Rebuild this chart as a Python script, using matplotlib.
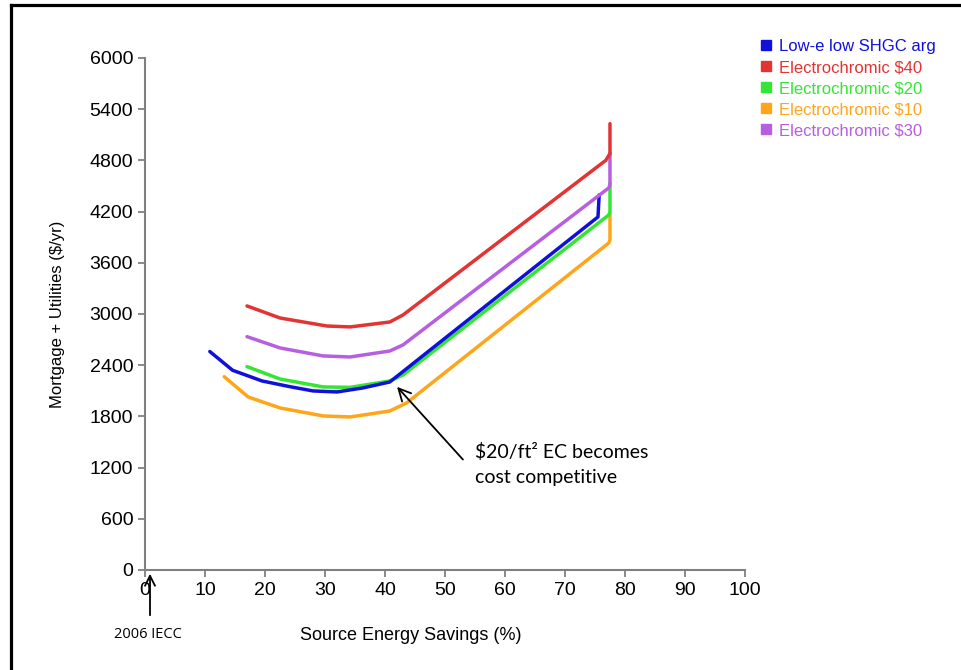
import matplotlib
matplotlib.use("Agg")
import matplotlib.pyplot as plt
from matplotlib.lines import Line2D

plt.rcParams['font.family'] = ['Liberation Sans', 'DejaVu Sans']

# series: source energy savings (%) vs mortgage + utilities ($/yr)
blue_x = [10.8, 14.6, 19.5, 24.0, 28.0, 32.0, 36.3, 40.8, 75.5, 75.7]
blue_y = [2560, 2340, 2215, 2150, 2098, 2086, 2133, 2203, 4137, 4395]

red_x = [17.0, 22.5, 30.3, 34.2, 40.8, 43.0, 76.8, 77.5, 77.5]
red_y = [3094, 2953, 2859, 2848, 2906, 2988, 4800, 4880, 5230]

green_x = [17.0, 22.5, 29.7, 34.2, 40.8, 43.0, 77.3, 77.5, 77.5]
green_y = [2383, 2238, 2145, 2140, 2215, 2285, 4160, 4200, 4535]

orange_x = [13.2, 17.2, 22.5, 29.7, 34.2, 40.8, 43.6, 77.3, 77.5, 77.5]
orange_y = [2265, 2027, 1899, 1805, 1793, 1863, 1957, 3832, 3870, 4184]

purple_x = [17.0, 22.5, 29.7, 34.2, 40.8, 43.0, 77.3, 77.5, 77.5]
purple_y = [2734, 2602, 2508, 2496, 2566, 2637, 4477, 4520, 4887]

labels = ["Low-e low SHGC arg", "Electrochromic $40", "Electrochromic $20",
          "Electrochromic $10", "Electrochromic $30"]
colors = ["#1010DD", "#E33333", "#33E633", "#FFA51A", "#B85EE0"]

x_ticks = list(range(0, 101, 10))
y_ticks = list(range(0, 6001, 600))

fig = plt.figure(figsize=(9.61, 6.70), dpi=100)
ax = fig.add_axes([0.1509, 0.1493, 0.6243, 0.7642])

series = [(blue_x, blue_y), (red_x, red_y), (green_x, green_y),
          (orange_x, orange_y), (purple_x, purple_y)]
# draw order so the vertical end segments stack like the original
order = [3, 2, 0, 4, 1]
for i in order:
    xs, ys = series[i]
    ax.plot(xs, ys, color=colors[i], lw=2.5, solid_joinstyle='round',
            solid_capstyle='round', zorder=3)

ax.set_xlim(0, 100)
ax.set_ylim(0, 6000)
ax.set_xticks(x_ticks)
ax.set_yticks(y_ticks)
ax.tick_params(labelsize=14, color='#808080', length=5, width=1.3, direction='out')
ax.tick_params(axis='x', pad=4)
for side in ['top', 'right']:
    ax.spines[side].set_visible(False)
for side in ['left', 'bottom']:
    ax.spines[side].set_color('#808080')
    ax.spines[side].set_linewidth(1.5)

ax.set_ylabel("Mortgage + Utilities ($/yr)", fontsize=12, labelpad=18)
fig.text(411 / 961, 1 - 636 / 670, "Source Energy Savings (%)", fontsize=13,
         ha='center', va='center')

# legend with small square markers, text in series colour
handles = [Line2D([], [], ls='none', marker='s', markersize=7, color=c) for c in colors]
leg = ax.legend(handles, labels, loc='upper left', bbox_to_anchor=(1.016, 1.05),
                frameon=False, fontsize=12, handlelength=0.6, handletextpad=0.45,
                labelspacing=0.36, labelcolor=colors, borderaxespad=0)

# annotation for the cost competitive point
ax.annotate("", xy=(41.7, 2170), xytext=(53.3, 1270),
            arrowprops=dict(arrowstyle='->', color='black', lw=1.3,
                            mutation_scale=22))
ax.text(55.0, 1490, "$20/ft² EC becomes\ncost competitive", fontsize=14,
        family=['Lato', 'DejaVu Sans'], va='top', ha='left', linespacing=1.6)

# 2006 IECC baseline marker below the axis
ax.annotate("", xy=(150 / 961, 1 - 571 / 670), xytext=(150 / 961, 1 - 618 / 670),
            xycoords='figure fraction', textcoords='figure fraction',
            arrowprops=dict(arrowstyle='->', color='black', lw=1.3, mutation_scale=18))
fig.text(148 / 961, 1 - 634 / 670, "2006 IECC", fontsize=10.5,
         family=['Open Sans', 'DejaVu Sans'], ha='center', va='center')

# outer frame cropped at right and bottom
fig.add_artist(Line2D([10.5 / 961, 10.5 / 961], [0, 1 - 5 / 670], color='black',
                      lw=2.3, transform=fig.transFigure))
fig.add_artist(Line2D([10.5 / 961, 1], [1 - 5 / 670, 1 - 5 / 670], color='black',
                      lw=2.3, transform=fig.transFigure))

fig.savefig("out.png", dpi=100)
